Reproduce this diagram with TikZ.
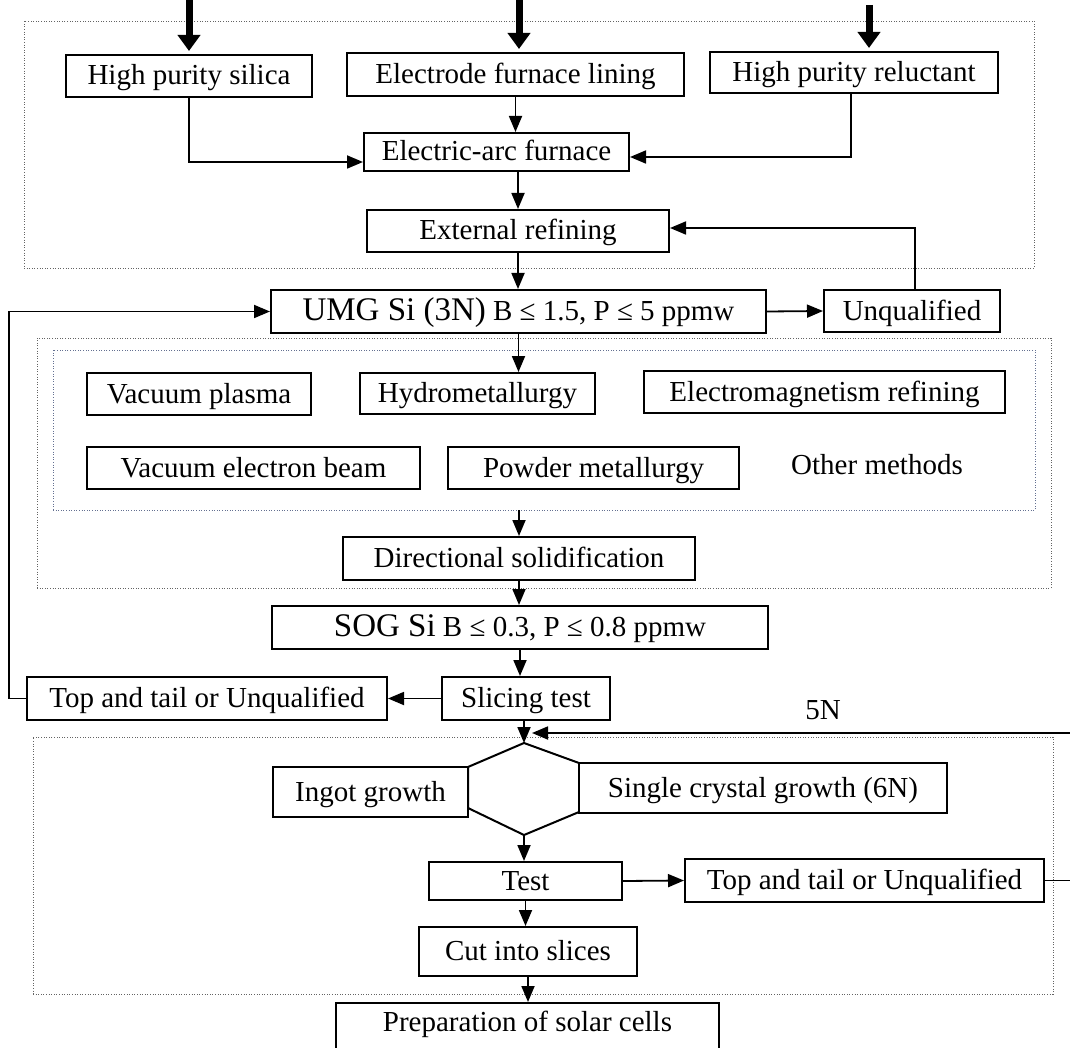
\documentclass[tikz,border=0pt]{standalone}
\usepackage{fontspec}
\setmainfont{Liberation Serif}
\usetikzlibrary{arrows.meta,calc}
\definecolor{framegray}{RGB}{100,100,100}
\definecolor{frameblue}{RGB}{100,112,145}
\tikzset{
  box/.style={draw, line width=2pt, fill=white, inner sep=0pt, text height=22pt, text depth=4pt, font=\fontsize{29}{34}\selectfont},
  frame/.style={draw=framegray, line width=0.9pt, dash pattern=on 1pt off 1.6pt, inner sep=0pt},
  arr/.style={line width=1.8pt, -{Triangle[length=16pt,width=13pt]}},
  bigarr/.style={line width=7pt, -{Triangle[length=16pt,width=22pt]}, shorten >=3pt},
  plain/.style={inner sep=0pt, font=\fontsize{29}{34}\selectfont},
}
\newcommand{\bigpart}[1]{{\fontsize{33}{38}\selectfont #1}}
\begin{document}
\begin{tikzpicture}[x=1pt,y=-1pt]
\useasboundingbox (0,0) rectangle (1070,1048);
\clip (0,0) rectangle (1070,1048);
% frames
\node[frame, minimum width=1010pt, minimum height=247pt] (f1) at (529,144.5) {};
\node[frame, minimum width=1014pt, minimum height=250pt] (f2) at (544,463) {};
\node[frame, draw=frameblue, minimum width=982pt, minimum height=160pt] (f3) at (544,430) {};
\node[frame, minimum width=1020pt, minimum height=257pt] (f4) at (543,865.5) {};
% diamond
\coordinate (dtop) at (524,743);
\coordinate (dbot) at (524,835);
\draw[line width=2pt] (dtop) -- (579,763) -- (579,812) -- (dbot) -- (468,808) -- (468,767) -- cycle;
% boxes
\node[box, minimum width=246pt, minimum height=42pt] (silica) at (189,76) {High purity silica};
\node[box, minimum width=337pt, minimum height=43pt] (lining) at (515.5,74.5) {Electrode furnace lining};
\node[box, minimum width=288pt, minimum height=41pt] (reluct) at (854,72.5) {High purity reluctant};
\node[box, minimum width=265pt, minimum height=38pt] (eaf) at (496.5,152) {Electric-arc furnace};
\node[box, minimum width=302pt, minimum height=42pt] (ext) at (518,231) {External refining};
\node[box, minimum width=495pt, minimum height=43pt] (umg) at (518.5,311.5) {\bigpart{UMG Si (3N)} B ≤ 1.5, P ≤ 5 ppmw};
\node[box, minimum width=176pt, minimum height=42pt] (unq) at (912,311) {Unqualified};
\node[box, minimum width=224pt, minimum height=42pt] (vplasma) at (199,394) {Vacuum plasma};
\node[box, minimum width=235pt, minimum height=41pt] (hydro) at (477.5,393.5) {Hydrometallurgy};
\node[box, minimum width=361pt, minimum height=42pt] (emag) at (824.5,392) {Electromagnetism refining};
\node[box, minimum width=333pt, minimum height=42pt] (veb) at (253.5,468) {Vacuum electron beam};
\node[box, minimum width=291pt, minimum height=42pt] (powder) at (593.5,468) {Powder metallurgy};
\node[plain] (other) at (877,465) {Other methods};
\node[box, minimum width=352pt, minimum height=43pt] (dirsol) at (519,558.5) {Directional solidification};
\node[box, minimum width=496pt, minimum height=43pt] (sog) at (520,627.5) {\bigpart{SOG Si} B ≤ 0.3, P ≤ 0.8 ppmw};
\node[box, minimum width=168pt, minimum height=43pt] (slice) at (526,698.5) {Slicing test};
\node[box, minimum width=360pt, minimum height=43pt] (ttl) at (207,698.5) {Top and tail or Unqualified};
\node[plain] (n5) at (823,710) {5N};
\node[box, minimum width=195pt, minimum height=50pt] (ingot) at (370.5,792) {Ingot growth};
\node[box, minimum width=368pt, minimum height=50pt] (single) at (763,788) {Single crystal growth (6N)};
\node[box, minimum width=193pt, minimum height=38pt] (test) at (525.5,881) {Test};
\node[box, minimum width=359pt, minimum height=43pt] (ttr) at (864.5,880.5) {Top and tail or Unqualified};
\node[box, minimum width=218pt, minimum height=49pt] (cut) at (528,951.5) {Cut into slices};
\node[box, minimum width=383pt, minimum height=56pt, anchor=north] (prep) at (527.5,1002) {\raisebox{9pt}{Preparation of solar cells}};
% inputs
\coordinate (in1) at (189,0);
\coordinate (in2) at (519,0);
\coordinate (in3) at (869,5);
\draw[bigarr] (in1) -- (in1 |- silica.north);
\draw[bigarr] (in2) -- (in2 |- lining.north);
\draw[bigarr] (in3) -- (in3 |- reluct.north);
% connectors
\draw[arr] (silica.south) |- ($(eaf.west)+(0,10)$);
\draw[arr] ($(reluct.south)+(-3,0)$) |- ($(eaf.east)+(0,5)$);
\draw[arr] (lining.south) -- (lining.south |- eaf.north);
\draw[arr] (ext.north |- eaf.south) -- (ext.north);
\draw[arr] (ext.south) -- (ext.south |- umg.north);
\draw[arr] (umg.east) -- (unq.west);
\draw[arr] ($(unq.north)+(3,0)$) |- ($(ext.east)+(0,-3)$);
\draw[arr] (umg.south) -- (umg.south |- hydro.north);
\draw[arr] (dirsol.north |- f3.south) -- (dirsol.north);
\draw[arr] (dirsol.south) -- (dirsol.south |- sog.north);
\draw[arr] (sog.south) -- (sog.south |- slice.north);
\draw[arr] (slice.west) -- (ttl.east);
\draw[arr] (ttl.west) -- ++(-17,0) |- (umg.west);
\draw[arr] (dtop |- slice.south) -- (dtop);
\coordinate (fbend) at (532,733);
\draw[arr] (ttr.east) -- ++(40,0) |- (fbend);
\draw[arr] (dbot) -- (dbot |- test.north);
\draw[arr] (test.east) -- (ttr.west);
\draw[arr] (test.south) -- (test.south |- cut.north);
\draw[arr] (cut.south) -- (cut.south |- prep.north);
\end{tikzpicture}
\end{document}
